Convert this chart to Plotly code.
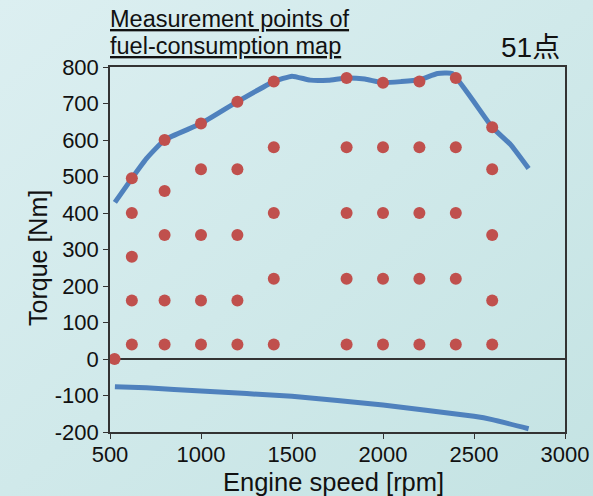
import base64
import plotly.graph_objects as go

# Measurement points (engine speed rpm, torque Nm)
point_speed = ([525] +
               [620] * 5 + [800] * 5 + [1000] * 5 + [1200] * 5 + [1400] * 5 +
               [1800] * 5 + [2000] * 5 + [2200] * 5 + [2400] * 5 + [2600] * 5)
point_torque = ([0] +
                [495, 400, 280, 160, 40] +
                [600, 460, 340, 160, 40] +
                [645, 520, 340, 160, 40] +
                [705, 520, 340, 160, 40] +
                [760, 580, 400, 220, 40] +
                [770, 580, 400, 220, 40] +
                [757, 580, 400, 220, 40] +
                [760, 580, 400, 220, 40] +
                [770, 580, 400, 220, 40] +
                [635, 520, 340, 160, 40])

# Maximum torque curve
max_speed = [527, 620, 700, 800, 1000, 1200, 1400, 1500, 1600, 1700, 1800, 1900,
             2000, 2100, 2200, 2300, 2380, 2600, 2700, 2800]
max_torque = [429, 495, 549, 600, 645, 705, 760, 775, 764, 764, 770, 767,
              757, 760, 765, 782, 782, 635, 588, 522]

# Motoring (negative) torque curve
min_speed = [527, 700, 1000, 1500, 2000, 2500, 2600, 2800]
min_torque = [-76, -79, -88, -102, -126, -157, -166, -191]

x_ticks = [500, 1000, 1500, 2000, 2500, 3000]
x_tick_labels = ["500", "1000", "1500", "2000", "2500", "3000"]
y_ticks = [-200, -100, 0, 100, 200, 300, 400, 500, 600, 700, 800]
y_tick_labels = ["-200", "-100", "0", "100", "200", "300", "400", "500", "600", "700", "800"]

FONT = "Arial, 'Liberation Sans', 'Noto Sans CJK JP', sans-serif"

svg = ('<svg xmlns="http://www.w3.org/2000/svg" width="593" height="496">'
       '<defs><linearGradient id="g" x1="0" y1="0" x2="1" y2="1">'
       '<stop offset="0" stop-color="#dceff1"/>'
       '<stop offset="1" stop-color="#c4e3e3"/>'
       '</linearGradient></defs>'
       '<rect width="593" height="496" fill="url(#g)"/></svg>')
bg_uri = "data:image/svg+xml;base64," + base64.b64encode(svg.encode()).decode()

fig = go.Figure()
fig.add_trace(go.Scatter(x=max_speed, y=max_torque, mode="lines",
                         line=dict(color="#4f81bd", width=5, shape="spline", smoothing=0.4),
                         showlegend=False, hoverinfo="skip"))
fig.add_trace(go.Scatter(x=min_speed, y=min_torque, mode="lines",
                         line=dict(color="#4f81bd", width=5, shape="spline", smoothing=0.4),
                         showlegend=False, hoverinfo="skip"))
fig.add_trace(go.Scatter(x=point_speed, y=point_torque, mode="markers",
                         marker=dict(color="#c0504d", size=12),
                         showlegend=False, cliponaxis=False))

L, R, T, B = 110, 28, 67, 64
W, H = 593, 496
ph = H - T - B
pw = W - L - R


def px_x(p):
    return (p - L) / pw


def px_y(p):
    return (H - B - p) / ph


fig.update_layout(
    width=W, height=H,
    margin=dict(l=L, r=R, t=T, b=B, pad=0, autoexpand=False),
    paper_bgcolor="#d0e9ea",
    plot_bgcolor="rgba(0,0,0,0)",
    font=dict(family=FONT, size=22, color="#111111"),
    images=[dict(source=bg_uri, xref="paper", yref="paper",
                 x=-L / pw, y=1 + T / ph, sizex=W / pw, sizey=H / ph,
                 xanchor="left", yanchor="top", sizing="stretch", layer="below")],
    xaxis=dict(range=[500, 3000], tickvals=x_ticks, ticktext=x_tick_labels,
               ticks="outside", ticklen=5, automargin=False, ticklabelstandoff=-3,
               tickcolor="#333", showline=True, linecolor="#333", linewidth=1.5,
               mirror=True, showgrid=False, zeroline=False,
               tickfont=dict(size=22)),
    yaxis=dict(range=[-200, 800], tickvals=y_ticks, ticktext=y_tick_labels,
               ticks="outside", ticklen=5, automargin=False,
               tickcolor="#333", showline=True, linecolor="#333", linewidth=1.5,
               mirror=True, showgrid=False, zeroline=True, zerolinecolor="#333",
               zerolinewidth=1.5, tickfont=dict(size=22)),
    annotations=[
        dict(text="<u>Measurement points of</u>",
             xref="paper", yref="paper", x=px_x(108), y=px_y(19),
             xanchor="left", yanchor="middle", align="left", showarrow=False,
             font=dict(size=23.5, color="#111")),
        dict(text="<u>fuel-consumption map</u>",
             xref="paper", yref="paper", x=px_x(108), y=px_y(46),
             xanchor="left", yanchor="middle", align="left", showarrow=False,
             font=dict(size=23.5, color="#111")),
        dict(text="51点", xref="paper", yref="paper", x=px_x(562),
             y=px_y(47), xanchor="right", yanchor="middle",
             showarrow=False, font=dict(size=28, color="#111")),
        dict(text="Engine speed [rpm]", xref="paper", yref="paper", x=px_x(333),
             y=px_y(482), xanchor="center", yanchor="middle",
             showarrow=False, font=dict(size=25.5, color="#111")),
        dict(text="Torque [Nm]", xref="paper", yref="paper", x=px_x(38),
             y=px_y(258), xanchor="center", yanchor="middle", textangle=-90,
             showarrow=False, font=dict(size=25, color="#111")),
    ],
)

fig.write_html("out.html", config={"displayModeBar": False},
               post_script="document.body.style.margin='0';document.body.style.overflow='hidden';")
